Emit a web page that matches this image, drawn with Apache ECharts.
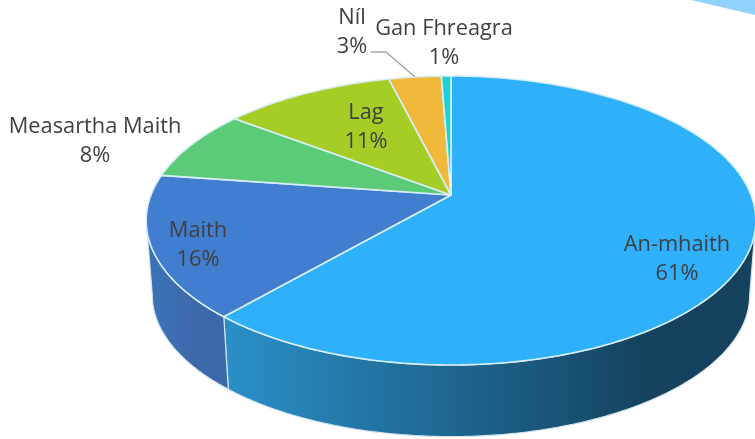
<!DOCTYPE html>
<html>
<head>
<meta charset="utf-8">
<style>html,body{margin:0;background:#fff}#main{width:755px;height:439px}</style>
<script src="https://cdn.jsdelivr.net/npm/echarts@6/dist/echarts.min.js"></script>
</head>
<body>
<div id="main"></div>
<script>
var categories = ['An-mhaith', 'Maith', 'Measartha Maith', 'Lag', 'Níl', 'Gan Fhreagra'];
var values = [61.4, 15.9, 8.0, 10.8, 3.3, 0.6];
var percentLabels = ['61%', '16%', '8%', '11%', '3%', '1%'];

var topColors = ['#2fb0fb', '#427ecf', '#5ccb77', '#a6cd25', '#f0b93c', '#1fd0d8'];
var wallColors = [['#2a90c8', '#14425f'], ['#3d72b8', '#3b68a8']];
var labelCenters = [[677, 259], [198, 245], [95, 141], [366, 127], [352, 32], [444, 43]];

// perspective of the disc: apex, half width, depth, foreshortening
var cx = 451, cy = 195, rw = 300, rh = 140, k = 0.1765;
// the bottom rim is the top rim slightly shrunk and pushed down
var shrink = 0.98, drop = 75;

var total = values.reduce(function (a, b) { return a + b; }, 0);
var starts = [];
values.reduce(function (sum, v, i) { starts[i] = sum; return sum + v; }, 0);

function toAngle(v) { return v / total * Math.PI * 2; }

function rim(t) {
    var u = Math.sin(t), v = Math.cos(t), d = 1 + k * v;
    return [cx + rw * u / d, cy - rh * v / d];
}
function lower(p) {
    return [cx + (p[0] - cx) * shrink, cy + (p[1] - cy) * shrink + drop];
}
function arc(a, b) {
    var n = Math.max(2, Math.ceil((b - a) * 80)), pts = [];
    for (var i = 0; i <= n; i++) pts.push(rim(a + (b - a) * i / n));
    return pts;
}

var chart = echarts.init(document.getElementById('main'));

// only the front part of the rim has a visible wall
var frontFrom = Math.acos(-k), frontTo = Math.PI * 2 - frontFrom;

function renderWall(params, api) {
    var i = params.dataIndex;
    var a = Math.max(toAngle(starts[i]), frontFrom);
    var b = Math.min(toAngle(starts[i] + api.value(0)), frontTo);
    if (b <= a) return { type: 'group', children: [] };
    var top = arc(a, b);
    var bottom = top.map(lower).reverse();
    var c = wallColors[i];
    return {
        type: 'polygon',
        shape: { points: top.concat(bottom) },
        style: {
            fill: new echarts.graphic.LinearGradient(0, 0, 1, 0, [
                { offset: 0, color: c[0] },
                { offset: 0.8, color: c[1] },
                { offset: 1, color: c[1] }
            ]),
            stroke: '#d3e4ee',
            lineWidth: 1.2
        }
    };
}

function renderTop(params, api) {
    var i = params.dataIndex;
    var a = toAngle(starts[i]), b = toAngle(starts[i] + api.value(0));
    return {
        type: 'polygon',
        shape: { points: [[cx, cy]].concat(arc(a, b)) },
        style: { fill: topColors[i], stroke: '#d9eef8', lineWidth: 1.6, lineJoin: 'round' }
    };
}

function renderLabel(params, api) {
    var i = params.dataIndex;
    var pos = labelCenters[i];
    var children = [{
        type: 'text',
        style: {
            text: categories[i] + '\n' + percentLabels[i],
            x: pos[0], y: pos[1],
            textAlign: 'center', textVerticalAlign: 'middle',
            font: '21.8px "Open Sans"', lineHeight: 29, fill: '#404040'
        }
    }];
    if (categories[i] === 'Níl') {
        var end = rim(toAngle(starts[i] + api.value(0) / 2));
        children.push({
            type: 'polyline',
            shape: { points: [[371, 52], [386, 52], end] },
            style: { stroke: '#a6a6a6', lineWidth: 1.5, fill: null }
        });
    }
    return { type: 'group', children: children };
}

function layer(fn) {
    return {
        type: 'custom',
        coordinateSystem: 'none',
        renderItem: fn,
        silent: true,
        animation: false,
        clip: false,
        data: values
    };
}

chart.setOption({
    backgroundColor: '#fff',
    animation: false,
    graphic: [{
        type: 'polygon',
        z: 0,
        shape: { points: [[691, 0], [755, 0], [755, 15]] },
        style: { fill: '#90d2fb' }
    }],
    series: [layer(renderWall), layer(renderTop), layer(renderLabel)]
});
</script>
</body>
</html>
